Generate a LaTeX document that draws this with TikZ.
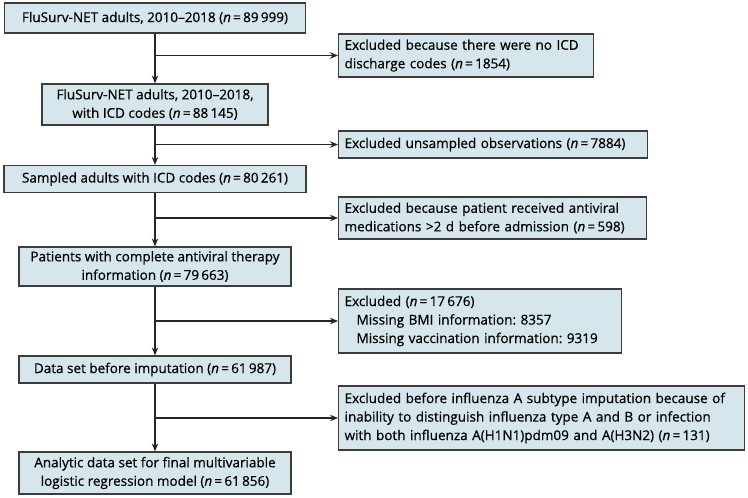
\documentclass[tikz,border=0pt]{standalone}
\usepackage{fontspec}
\setmainfont{Open Sans}[UprightFeatures = {FakeBold = 0.6}, ItalicFeatures = {FakeBold = 0.6}]
\frenchspacing
\usepackage{tikz}
\usetikzlibrary{arrows.meta}
\definecolor{boxfill}{RGB}{213,231,236}
\definecolor{boxline}{RGB}{60,60,60}
\tikzset{
    stage/.style = {rectangle, draw = boxline, fill = boxfill, line width = 1.2pt, align = center, inner xsep = 4pt, inner ysep = 0pt, font = \fontsize{13.5}{18.5}\selectfont},
    excluded/.style = {rectangle, draw = boxline, fill = boxfill, line width = 1.2pt, align = left, anchor = west, inner xsep = 6pt, inner ysep = 0pt, font = \fontsize{13.5}{18.5}\selectfont},
    flow/.style = {draw = black!85, line width = 1.2pt, -{Stealth[length = 8pt, width = 6.5pt]}}
}
\newcommand{\nn}[1]{(\textit{n}\,=\,#1)}

\begin{document}
\begin{tikzpicture}[x = 1pt, y = -1pt]
        \useasboundingbox (0,0) rectangle (748,498);
        \node [stage, minimum width = 301pt, minimum height = 30pt] (m1) at (155,18) {FluSurv-NET adults, 2010--2018 \nn{89\,999}};
        \node [stage, minimum width = 226pt, minimum height = 41pt] (m2) at (155,104.5) {FluSurv-NET adults, 2010--2018,\\ with ICD codes \nn{88\,145}};
        \node [stage, minimum width = 302pt, minimum height = 27pt] (m3) at (155,179) {Sampled adults with ICD codes \nn{80\,261}};
        \node [stage, minimum width = 272pt, minimum height = 39pt] (m4) at (155,266.5) {Patients with complete antiviral therapy\\ information \nn{79\,663}};
        \node [stage, minimum width = 272pt, minimum height = 27pt] (m5) at (155,369.5) {Data set before imputation \nn{61\,987}};
        \node [stage, minimum width = 272pt, minimum height = 42pt] (m6) at (155,473) {Analytic data set for final multivariable\\ logistic regression model \nn{61\,856}};

        \node [excluded, minimum height = 43pt, text width = 243pt] (x1) at (338,55.5) {Excluded because there were no ICD\\ discharge codes \nn{1854}};
        \node [excluded, minimum height = 27pt, text width = 297pt] (x2) at (338,144.5) {Excluded unsampled observations \nn{7884}};
        \node [excluded, minimum height = 42pt, text width = 296pt] (x3) at (338,218) {Excluded because patient received antiviral\\ medications >2 d before admission \nn{598}};
        \node [excluded, minimum height = 64pt, text width = 271pt] (x4) at (338,321) {Excluded \nn{17\,676}\\ \hspace*{12pt}Missing BMI information: 8357\\ \hspace*{12pt}Missing vaccination information: 9319};
        \node [excluded, minimum height = 64pt, text width = 394pt] (x5) at (338,418) {Excluded before influenza A subtype imputation because of\\ inability to distinguish influenza type A and B or infection\\ with both influenza A(H1N1)pdm09 and A(H3N2) \nn{131}};

        \coordinate (b1) at (155,55.5);
        \coordinate (b2) at (155,144.5);
        \coordinate (b3) at (155,218);
        \coordinate (b4) at (155,321);
        \coordinate (b5) at (155,418);

        \draw [flow] (m1) -- (m2);
        \draw [flow] (m2) -- (m3);
        \draw [flow] (m3) -- (m4);
        \draw [flow] (m4) -- (m5);
        \draw [flow] (m5) -- (m6);
        \draw [flow] (b1) -- (x1.west);
        \draw [flow] (b2) -- (x2.west);
        \draw [flow] (b3) -- (x3.west);
        \draw [flow] (b4) -- (x4.west);
        \draw [flow] (b5) -- (x5.west);
    \end{tikzpicture}
\end{document}
